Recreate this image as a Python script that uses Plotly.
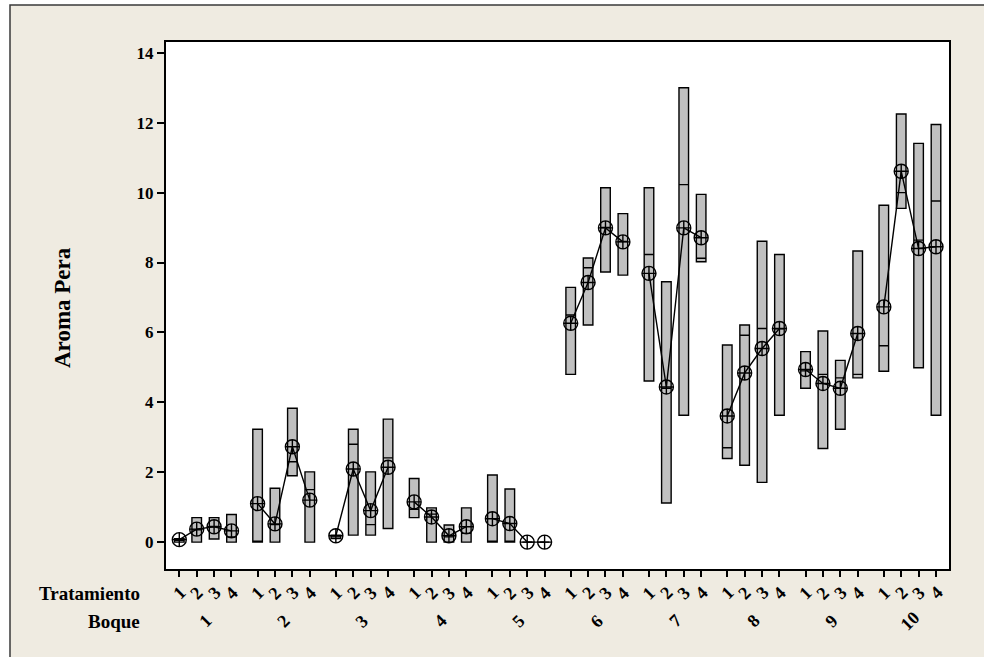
import plotly.graph_objects as go

# Aroma Pera by block (Boque) and treatment (Tratamiento)
blocks = ["1", "2", "3", "4", "5", "6", "7", "8", "9", "10"]
treatments = ["1", "2", "3", "4"]

q1 = [
    [0.00, 0.00, 0.09, 0.00],
    [0.00, 0.00, 1.90, 0.00],
    [0.10, 0.20, 0.20, 0.39],
    [0.70, 0.00, 0.00, 0.00],
    [0.00, 0.00, 0.00, 0.00],
    [4.80, 6.21, 7.73, 7.64],
    [4.61, 1.12, 3.63, 8.02],
    [2.39, 2.20, 1.71, 3.63],
    [4.40, 2.68, 3.23, 4.70],
    [4.89, 9.55, 4.99, 3.63],
]
median = [
    [0.05, 0.35, 0.45, 0.15],
    [0.00, 0.50, 2.30, 1.50],
    [0.15, 2.80, 0.50, 2.41],
    [0.94, 0.80, 0.15, 0.25],
    [0.00, 0.00, 0.00, 0.00],
    [6.50, 7.85, 9.00, 8.60],
    [8.23, 4.40, 10.23, 8.12],
    [2.70, 5.92, 6.11, 6.10],
    [4.90, 4.80, 4.70, 4.80],
    [5.62, 10.00, 8.64, 9.76],
]
q3 = [
    [0.10, 0.70, 0.70, 0.79],
    [3.23, 1.54, 3.83, 2.01],
    [0.20, 3.23, 2.01, 3.52],
    [1.82, 0.98, 0.49, 0.98],
    [1.92, 1.52, 0.00, 0.00],
    [7.29, 8.13, 10.14, 9.40],
    [10.14, 7.45, 13.00, 9.95],
    [5.64, 6.21, 8.61, 8.23],
    [5.45, 6.04, 5.20, 8.33],
    [9.64, 12.25, 11.41, 11.95],
]
means = [
    [0.07, 0.37, 0.44, 0.32],
    [1.10, 0.52, 2.73, 1.20],
    [0.18, 2.09, 0.90, 2.14],
    [1.15, 0.72, 0.18, 0.44],
    [0.67, 0.53, 0.00, 0.00],
    [6.26, 7.43, 8.99, 8.59],
    [7.69, 4.44, 8.99, 8.71],
    [3.61, 4.84, 5.54, 6.11],
    [4.94, 4.54, 4.40, 5.97],
    [6.73, 10.61, 8.40, 8.45],
]
y_ticks = [0, 2, 4, 6, 8, 10, 12, 14]

# Position on the x axis: treatments side by side, a gap between blocks
BLOCK_STEP = 4.5


def xpos(b, t):
    return b * BLOCK_STEP + t


xs, bq1, bmed, bq3 = [], [], [], []
for b in range(len(blocks)):
    for t in range(len(treatments)):
        xs.append(xpos(b, t))
        bq1.append(q1[b][t])
        bmed.append(median[b][t])
        bq3.append(q3[b][t])

# Mean lines, one connected run per block
mx, my = [], []
for b in range(len(blocks)):
    for t in range(len(treatments)):
        mx.append(xpos(b, t))
        my.append(means[b][t])
    mx.append(None)
    my.append(None)

SERIF = "Liberation Serif"

fig = go.Figure()
fig.add_trace(go.Box(
    x=xs, q1=bq1, median=bmed, q3=bq3,
    lowerfence=bq1, upperfence=bq3,
    width=0.55, whiskerwidth=0,
    fillcolor="#C0C0C0",
    line=dict(color="black", width=1.4),
    showlegend=False, hoverinfo="skip",
))
fig.add_trace(go.Scatter(
    x=mx, y=my, mode="lines+markers",
    line=dict(color="black", width=1.4),
    marker=dict(symbol="circle-cross-open", size=14, color="black",
                line=dict(color="black", width=1.4)),
    connectgaps=False, showlegend=False,
))

W, H = 984, 657
L, R, T, B = 166, 949, 42, 569


def px_x(p):
    return (p - L) / (R - L)


def px_y(p):
    return (B - p) / (B - T)


shapes = [
    # beige panel with its frame
    dict(type="rect", xref="paper", yref="paper", layer="below",
         x0=px_x(10), x1=px_x(1000), y0=px_y(5), y1=px_y(670),
         fillcolor="#EFEBE1", line=dict(color="#3a3a3a", width=1.5)),
    # white plotting area
    dict(type="rect", xref="paper", yref="paper", layer="below",
         x0=0, x1=1, y0=0, y1=1, fillcolor="white", line=dict(width=0)),
]

ann = []
bold = dict(family=SERIF, size=18, color="black", weight="bold")
for b in range(len(blocks)):
    for t in range(len(treatments)):
        ann.append(dict(x=xpos(b, t), y=px_y(593), xref="x", yref="paper",
                        text=treatments[t], showarrow=False, textangle=-45,
                        font=bold, xanchor="center", yanchor="middle"))
    ann.append(dict(x=xpos(b, 1.5), y=px_y(621), xref="x", yref="paper",
                    text=blocks[b], showarrow=False, textangle=-45,
                    font=bold, xanchor="center", yanchor="middle"))

ann.append(dict(x=px_x(142), y=px_y(593), xref="paper", yref="paper",
                text="Tratamiento", showarrow=False, xanchor="right",
                yanchor="middle",
                font=dict(family=SERIF, size=19, color="black", weight="bold")))
ann.append(dict(x=px_x(142), y=px_y(621), xref="paper", yref="paper",
                text="Boque", showarrow=False, xanchor="right",
                yanchor="middle",
                font=dict(family=SERIF, size=19, color="black", weight="bold")))
ann.append(dict(x=px_x(62), y=px_y(308), xref="paper", yref="paper",
                text="Aroma Pera", showarrow=False, textangle=-90,
                xanchor="center", yanchor="middle",
                font=dict(family=SERIF, size=23, color="black", weight="bold")))

x_lo = -13.3 / 17.39
x_hi = xpos(len(blocks) - 1, len(treatments) - 1) + 13.0 / 17.39

fig.update_layout(
    width=W, height=H,
    margin=dict(l=L, r=W - R, t=T, b=H - B),
    paper_bgcolor="white",
    plot_bgcolor="rgba(0,0,0,0)",
    shapes=shapes,
    annotations=ann,
    xaxis=dict(range=[x_lo, x_hi], tickvals=xs, showticklabels=False,
               ticks="outside", ticklen=6, tickwidth=1.5, tickcolor="black",
               showgrid=False, zeroline=False, showline=True, linewidth=2,
               linecolor="black", mirror=True),
    yaxis=dict(range=[-0.77, 14.31], tickvals=y_ticks,
               ticktext=[str(v) for v in y_ticks],
               ticks="outside", ticklen=7, tickwidth=1.5, tickcolor="black",
               tickfont=dict(family=SERIF, size=17, color="black", weight="bold"),
               showgrid=False, zeroline=False, showline=True, linewidth=2,
               linecolor="black", mirror=True),
)

fig.write_html("out.html")
